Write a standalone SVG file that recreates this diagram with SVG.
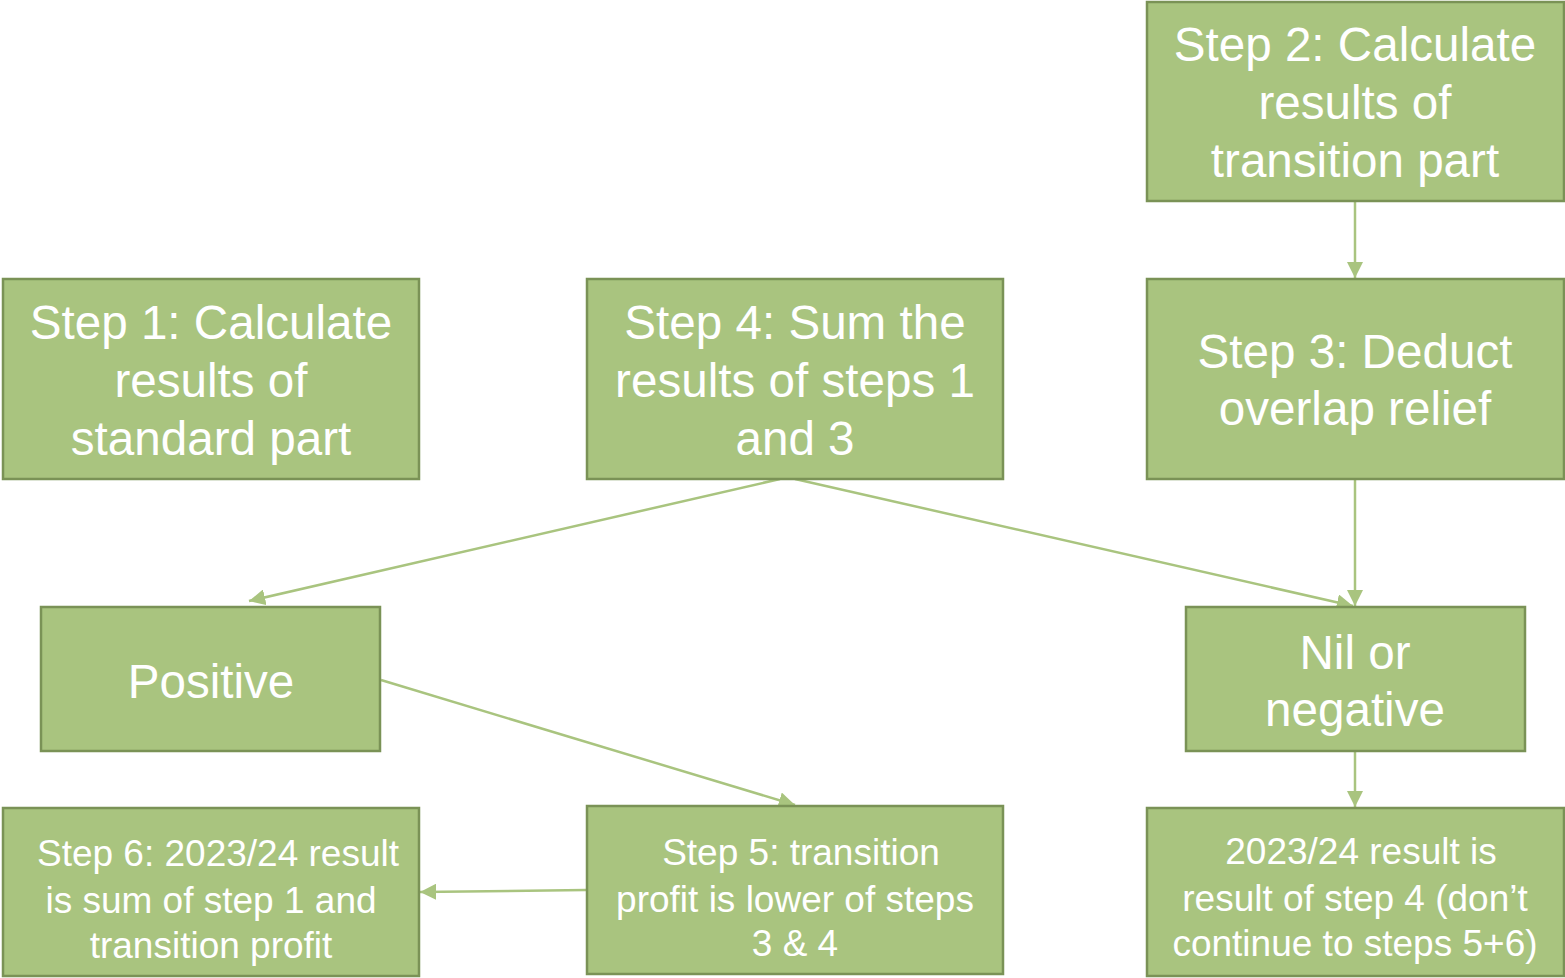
<svg xmlns="http://www.w3.org/2000/svg" width="1565" height="978" viewBox="0 0 1565 978">
  <style>
    .box { fill: #A9C47F; stroke: #7A9256; stroke-width: 2.5; }
    .big { font-family: "Liberation Sans", Arial, sans-serif; font-size: 47.6px; fill: #FFFFFF; text-anchor: middle; }
    .small { font-family: "Liberation Sans", Arial, sans-serif; font-size: 37px; fill: #FFFFFF; text-anchor: middle; }
    .conn { fill: none; stroke: #A9C47F; stroke-width: 2.5; marker-end: url(#arrow); }
  </style>
  <defs>
    <marker id="arrow" viewBox="0 0 10 10" refX="10" refY="5" markerWidth="6.5" markerHeight="6.5" markerUnits="strokeWidth" orient="auto">
      <path d="M0,0 L10,5 L0,10 Z" fill="#A9C47F"/>
    </marker>
  </defs>

  <g id="connectors">
    <line class="conn" x1="1355" y1="202" x2="1355" y2="278"/>
    <line class="conn" x1="1355" y1="480" x2="1355" y2="606"/>
    <line class="conn" x1="780" y1="479" x2="249" y2="601"/>
    <line class="conn" x1="795" y1="479" x2="1353" y2="606"/>
    <line class="conn" x1="381" y1="680" x2="795" y2="805"/>
    <line class="conn" x1="586" y1="890" x2="420" y2="892"/>
    <line class="conn" x1="1355" y1="752" x2="1355" y2="807"/>
  </g>

  <g id="step2">
    <rect class="box" x="1147" y="2" width="417" height="199"/>
    <text class="big" x="1355" y="61">Step 2: Calculate</text>
    <text class="big" x="1355" y="119">results of</text>
    <text class="big" x="1355" y="177">transition part</text>
  </g>

  <g id="step1">
    <rect class="box" x="3" y="279" width="416" height="200"/>
    <text class="big" x="211" y="339">Step 1: Calculate</text>
    <text class="big" x="211" y="397">results of</text>
    <text class="big" x="211" y="455">standard part</text>
  </g>

  <g id="step4">
    <rect class="box" x="587" y="279" width="416" height="200"/>
    <text class="big" x="795" y="339">Step 4: Sum the</text>
    <text class="big" x="795" y="397">results of steps 1</text>
    <text class="big" x="795" y="455">and 3</text>
  </g>

  <g id="step3">
    <rect class="box" x="1147" y="279" width="417" height="200"/>
    <text class="big" x="1355" y="368">Step 3: Deduct</text>
    <text class="big" x="1355" y="425">overlap relief</text>
  </g>

  <g id="positive">
    <rect class="box" x="41" y="607" width="339" height="144"/>
    <text class="big" x="211" y="698">Positive</text>
  </g>

  <g id="nil-or-negative">
    <rect class="box" x="1186" y="607" width="339" height="144"/>
    <text class="big" x="1355" y="669">Nil or</text>
    <text class="big" x="1355" y="726">negative</text>
  </g>

  <g id="step6">
    <rect class="box" x="3" y="808" width="416" height="168"/>
    <text class="small" x="218" y="866">Step 6: 2023/24 result</text>
    <text class="small" x="211" y="913">is sum of step 1 and</text>
    <text class="small" x="211" y="958">transition profit</text>
  </g>

  <g id="step5">
    <rect class="box" x="587" y="806" width="416" height="168"/>
    <text class="small" x="801" y="865">Step 5: transition</text>
    <text class="small" x="795" y="912">profit is lower of steps</text>
    <text class="small" x="795" y="956">3 &amp; 4</text>
  </g>

  <g id="result">
    <rect class="box" x="1147" y="808" width="417" height="168"/>
    <text class="small" x="1361" y="864">2023/24 result is</text>
    <text class="small" x="1355" y="911">result of step 4 (don’t</text>
    <text class="small" x="1355" y="956">continue to steps 5+6)</text>
  </g>
</svg>
